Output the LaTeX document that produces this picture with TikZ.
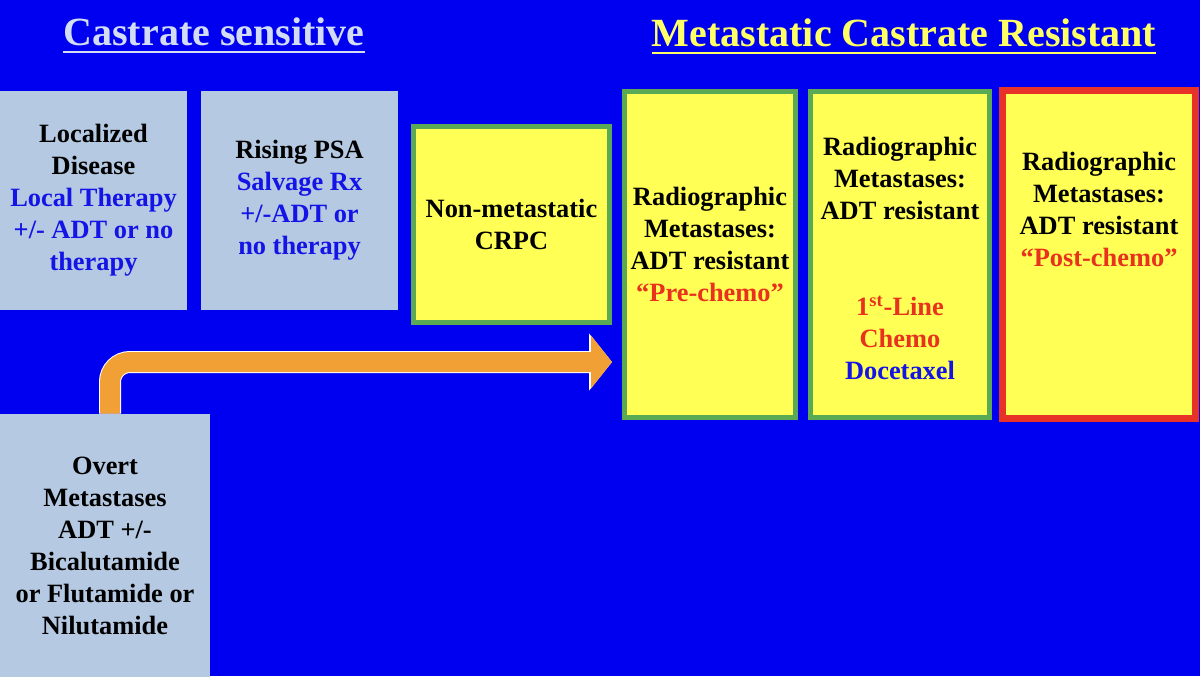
\documentclass[tikz,border=0pt]{standalone}
\usepackage{fontspec}
\setmainfont{Liberation Serif}
\usepackage{tikz}
\usetikzlibrary{arrows.meta,calc,positioning}
\definecolor{slideblue}{HTML}{0000F0}
\definecolor{paleblue}{HTML}{B5C9E2}
\definecolor{boxyellow}{HTML}{FFFF55}
\definecolor{boxgreen}{HTML}{5AAA55}
\definecolor{boxred}{HTML}{E83228}
\definecolor{txtblue}{HTML}{1414E6}
\definecolor{txtred}{HTML}{E8321E}
\definecolor{titlepale}{HTML}{D2DCF5}
\definecolor{titleyellow}{HTML}{FFFF66}
\definecolor{arroworange}{HTML}{F0A035}
% underlined heading
\newcommand\headline[1]{\leavevmode\setbox0\hbox{#1}\rlap{\copy0}\raisebox{-4pt}{\rule{\wd0}{1.1pt}}}
\newcommand\bl[1]{\textcolor{txtblue}{#1}}
\newcommand\rd[1]{\textcolor{txtred}{#1}}

\begin{document}
\begin{tikzpicture}[
    x=0.5pt, y=-0.5pt,
    greybox/.style={fill=paleblue, inner sep=0pt, align=center,
                    font=\fontsize{13.2}{16}\selectfont\bfseries},
    yelbox/.style={draw=boxgreen, line width=2.4pt, fill=boxyellow, inner sep=0pt,
                   align=center, font=\fontsize{13.2}{16}\selectfont\bfseries},
    redbox/.style={yelbox, draw=boxred, line width=3.5pt},
    boxtext/.style={inner sep=0pt, align=center,
                    font=\fontsize{13.2}{16}\selectfont\bfseries},
    heading/.style={anchor=base, inner sep=0pt, font=\fontsize{20}{24}\selectfont\bfseries},
    flow/.style={line width=10pt, arroworange, rounded corners=10pt,
                 -{Triangle[length=10.5pt,width=26pt]},
                 preaction={draw=white, line width=11pt,
                            -{Triangle[length=11.5pt,width=28pt]}}},
]
\fill[slideblue] (0,0) rectangle (1200,676);
\useasboundingbox (0,0) rectangle (1200,676);

% Headings
\node[heading, titlepale] (sens) at (214,45) {\headline{Castrate sensitive}};
\node[heading, titleyellow] (resist) at (904,46) {\headline{Metastatic Castrate Resistant}};

% Castrate sensitive stages
\node[greybox, minimum width=93.5pt, minimum height=109.5pt] (loc) at (93.5,200.5)
  {Localized\\Disease\\\bl{Local Therapy}\\\bl{+/- ADT or no}\\\bl{therapy}};
\node[greybox, minimum width=98.5pt, minimum height=109.5pt] (psa) at (299.5,200.5)
  {Rising PSA\\\bl{Salvage Rx}\\\bl{+/-ADT or}\\\bl{no therapy}};
\node[greybox, minimum width=105pt, minimum height=131.5pt] (overt) at (105,545.5)
  {Overt\\Metastases\\ADT +/-\\Bicalutamide\\or Flutamide or\\Nilutamide};

% Castrate resistant stages
\node[yelbox, minimum width=98.3pt, minimum height=98.3pt] (nmc) at (511.5,224.5)
  {Non-metastatic\\CRPC};
\node[yelbox, minimum width=85.5pt, minimum height=163pt] (pre) at (710,254.5) {};
\node[yelbox, minimum width=89.5pt, minimum height=163pt] (first) at (900,254.5) {};
\node[redbox, minimum width=96.5pt, minimum height=164pt] (post) at (1099,254.5) {};

\node[boxtext] (pretxt) at (710,244)
  {Radiographic\\Metastases:\\ADT resistant\\\rd{“Pre-chemo”}};
\node[boxtext] (firsttxt) at (900,178)
  {Radiographic\\Metastases:\\ADT resistant};
\node[boxtext] (firstrx) at (900,338)
  {\rd{1\textsuperscript{st}-Line}\\\rd{Chemo}\\\bl{Docetaxel}};
\node[boxtext] (posttxt) at (1099,209)
  {Radiographic\\Metastases:\\ADT resistant\\\rd{“Post-chemo”}};

% Progression arrow
\coordinate (arrtip) at (612,362);
\draw[flow] ([xshift=2.5pt]overt.north) |- (arrtip);
\end{tikzpicture}
\end{document}
